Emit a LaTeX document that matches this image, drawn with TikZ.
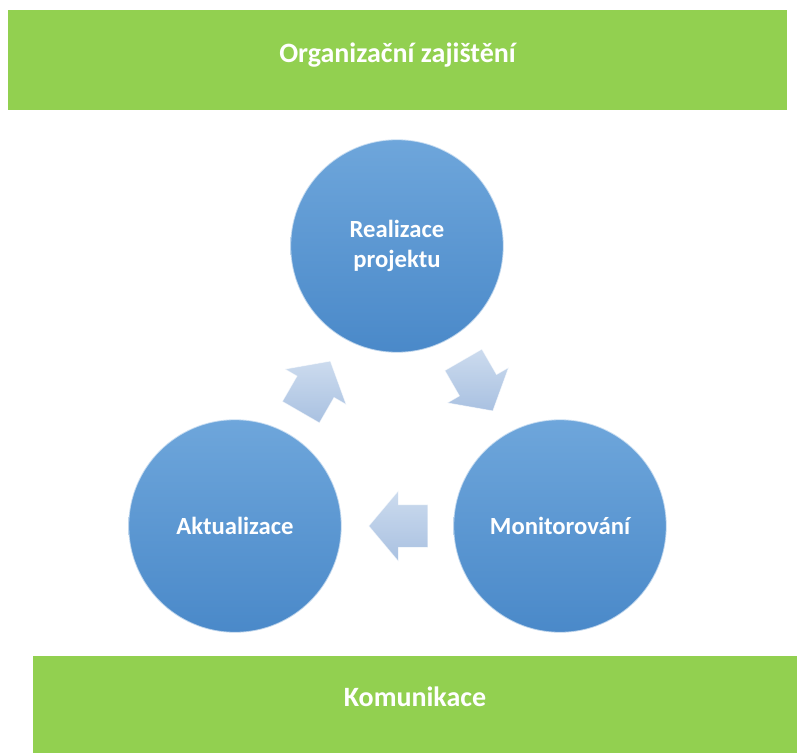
\documentclass[tikz,border=0pt]{standalone}
\usepackage{fontspec}
\setmainfont{Carlito}
\usepackage{tikz}
\usetikzlibrary{shapes.arrows,calc}
\definecolor{barGreen}{HTML}{92D050}
\definecolor{circTop}{HTML}{6EA6DB}
\definecolor{circBottom}{HTML}{4A89C9}
\definecolor{arrTop}{HTML}{CCDBEE}
\definecolor{arrBottom}{HTML}{A9C1E1}
\tikzset{%
  % Specifications for style of nodes:
          bar/.style = {rectangle, fill=barGreen, inner sep=0pt,
                        text depth=11pt,
                        text=white, font=\bfseries\fontsize{21}{25}\selectfont},
     phaseBox/.style = {circle, minimum size=160pt, inner sep=0pt,
                        top color=circTop, bottom color=circBottom,
                        draw=white, draw opacity=0.6, line width=1.2pt,
                        text=white, align=center,
                        font=\bfseries\fontsize{18.5}{22.5}\selectfont},
    stepArrow/.style = {single arrow, inner xsep=0pt, inner ysep=15.75pt,
                        single arrow head extend=10.5pt,
                        single arrow tip angle=100,
                        minimum height=44.25pt,
                        top color=arrTop, bottom color=arrBottom,
                        draw=white, draw opacity=0.6, line width=0.6pt},
}

\begin{document}
\begin{tikzpicture}[x=0.75pt, y=-0.75pt]
  \useasboundingbox (0,0) rectangle (797,753);
  % Specification of nodes (position, etc.)
  \node (orgBar)  [bar, minimum width=584.25pt, minimum height=75pt]
                                         at (397.5,60)  {Organizační zajištění};
  \node (komBar)  [bar, minimum width=573pt, minimum height=72.75pt]
                                         at (415,704.5) {Komunikace};
  \node (realizace)   [phaseBox] at (397,246) {Realizace\\projektu};
  \node (monitoring)  [phaseBox] at (560,526) {Monitorování};
  \node (aktualizace) [phaseBox] at (235,526) {Aktualizace};
  % Arrows between the phases (node centre sits nearer the tip, so pull back)
  \node (arrRealMon) [stepArrow, rotate=-60]
        at ($(realizace)!0.47!(monitoring)$) {};
  \node (arrMonAkt)  [stepArrow, rotate=180]
        at ($(monitoring)!0.47!(aktualizace)$) {};
  \node (arrAktReal) [stepArrow, rotate=60]
        at ($(aktualizace)!0.47!(realizace)$) {};
\end{tikzpicture}
\end{document}
